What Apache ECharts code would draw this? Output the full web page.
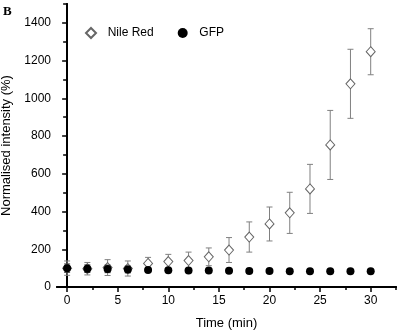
<!DOCTYPE html>
<html><head><meta charset="utf-8">
<script src="https://cdn.jsdelivr.net/npm/echarts@6/dist/echarts.min.js"></script>
<style>html,body{margin:0;padding:0;background:#fff}#c{width:401px;height:331px}</style>
</head><body><div id="c"></div>
<script>
var times = [0,2,4,6,8,10,12,14,16,18,20,22,24,26,28,30];
var nileRed = [100,97,103,98,125,135,140,160,196,265,334,393,520,753,1077,1247];
var nileRedErr = [38,33,42,40,32,38,45,47,66,80,90,109,130,183,183,122];
var gfp = [100,97,96,93,90,89,88,87,86,85,85,84,84,84,84,84];
var gfpErr = [22,20,20,18,8,8,6,6,5,5,5,5,5,5,5,5];
var xMajor = [0,5,10,15,20,25,30];
var xMinor = [2.5,7.5,12.5,17.5,22.5,27.5,32.5];
var yMajor = [0,200,400,600,800,1000,1200,1400];
var yMinor = [100,300,500,700,900,1100,1300,1500];
var yAll = yMajor.concat(yMinor);
var font = '"Liberation Sans", Arial, sans-serif';

function errData(v, e) { return times.map(function (t, i) { return [t, v[i] - e[i], v[i] + e[i]]; }); }
function errRender(color) {
  return function (params, api) {
    var x = api.value(0), lo = api.coord([x, api.value(1)]), hi = api.coord([x, api.value(2)]);
    var w = 3;
    var st = { stroke: color, lineWidth: 1 };
    return { type: 'group', children: [
      { type: 'line', shape: { x1: lo[0], y1: lo[1], x2: hi[0], y2: hi[1] }, style: st },
      { type: 'line', shape: { x1: lo[0] - w, y1: lo[1], x2: lo[0] + w, y2: lo[1] }, style: st },
      { type: 'line', shape: { x1: hi[0] - w, y1: hi[1], x2: hi[0] + w, y2: hi[1] }, style: st }
    ]};
  };
}
function plain(v) { return String(v); }
var axLine = { show: true, lineStyle: { color: '#000', width: 2 } };
var chart = echarts.init(document.getElementById('c'), null, { renderer: 'canvas' });
chart.setOption({
  animation: false,
  backgroundColor: '#fff',
  graphic: [{ type: 'text', left: 3, top: 5, style: { text: 'B', font: 'bold 13px "Liberation Serif", serif', fill: '#000' } }],
  legend: {
    left: 80, top: 22, itemWidth: 10, itemHeight: 10, itemGap: 24,
    formatter: function (n) { return '  ' + n; },
    textStyle: { fontFamily: font, fontSize: 12, color: '#000' },
    data: [{ name: 'Nile Red', icon: 'diamond' }, { name: 'GFP', icon: 'circle' }]
  },
  grid: { left: 57, right: 5, top: 4, bottom: 44, containLabel: false, outerBoundsMode: 'none' },
  xAxis: [
    { type: 'value', min: -1, max: 32.5, position: 'bottom',
      name: 'Time (min)', nameLocation: 'middle', nameGap: 30,
      nameTextStyle: { fontFamily: font, fontSize: 13, color: '#000' },
      axisLine: axLine, splitLine: { show: false },
      axisTick: { show: true, inside: false, length: 5, customValues: xMajor, lineStyle: { color: '#000', width: 1.5 } },
      axisLabel: { show: true, customValues: xMajor, formatter: plain, margin: 8, fontFamily: font, fontSize: 12, color: '#000' } },
    { type: 'value', min: -1, max: 32.5, position: 'bottom',
      axisLine: { show: false }, splitLine: { show: false },
      axisTick: { show: true, inside: false, length: 3, customValues: xMinor, lineStyle: { color: '#000', width: 1.5 } },
      axisLabel: { show: false } },
    { type: 'value', min: -1, max: 32.5, position: 'top',
      axisLine: axLine, splitLine: { show: false }, axisTick: { show: false }, axisLabel: { show: false } }
  ],
  yAxis: [
    { type: 'value', min: 0, max: 1500, position: 'left',
      name: 'Normalised intensity (%)', nameLocation: 'middle', nameGap: 32,
      nameTextStyle: { fontFamily: font, fontSize: 13, color: '#000' },
      axisLine: axLine, splitLine: { show: false },
      axisTick: { show: true, inside: false, length: 5, customValues: yMajor, lineStyle: { color: '#000', width: 1.5 } },
      axisLabel: { show: true, customValues: yMajor, formatter: plain, margin: 6, fontFamily: font, fontSize: 12, color: '#000' } },
    { type: 'value', min: 0, max: 1500, position: 'left',
      axisLine: { show: false }, splitLine: { show: false },
      axisTick: { show: true, inside: false, length: 3, customValues: yMinor, lineStyle: { color: '#000', width: 1.5 } },
      axisLabel: { show: false } },
    { type: 'value', min: 0, max: 1500, position: 'right',
      axisLine: axLine, splitLine: { show: false },
      axisTick: { show: true, inside: true, length: 4, customValues: yAll, lineStyle: { color: '#000', width: 1.5 } },
      axisLabel: { show: false } }
  ],
  series: [
    { type: 'custom', name: 'nrErr', renderItem: errRender('#808080'), data: errData(nileRed, nileRedErr), z: 2, silent: true },
    { type: 'scatter', name: 'Nile Red', symbol: 'diamond', symbolSize: [9, 10],
      itemStyle: { color: '#fff', borderColor: '#666', borderWidth: 1, opacity: 1 },
      data: times.map(function (t, i) { return [t, nileRed[i]]; }), z: 3 },
    { type: 'custom', name: 'gfpErr', renderItem: errRender('#333'), data: errData(gfp, gfpErr), z: 4, silent: true },
    { type: 'scatter', name: 'GFP', symbol: 'circle', symbolSize: 8,
      itemStyle: { color: '#000', opacity: 1 },
      data: times.map(function (t, i) { return [t, gfp[i]]; }), z: 5 }
  ]
});
</script></body></html>
